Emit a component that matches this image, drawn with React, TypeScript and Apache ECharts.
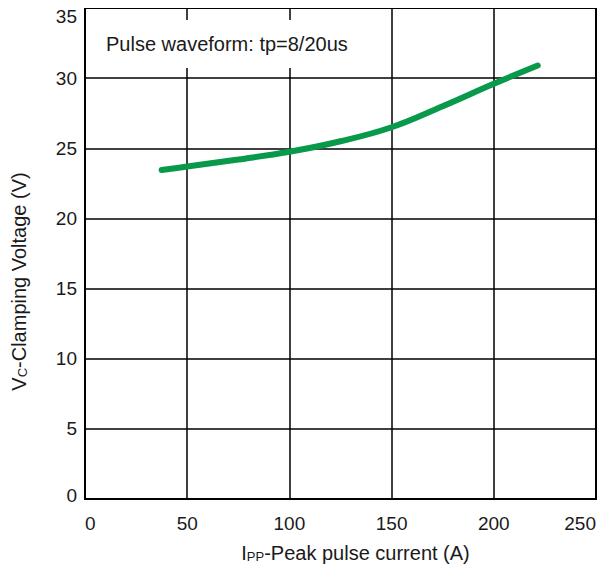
import React, { useEffect, useRef } from "react";
import * as echarts from "echarts";

const currentA = [37.5, 50, 75, 100, 125, 150, 175, 200, 221.5];
const voltageV = [23.45, 23.7, 24.2, 24.75, 25.5, 26.5, 28.0, 29.6, 30.9];
const xTicks = [0, 50, 100, 150, 200, 250];
const yTicks = [0, 5, 10, 15, 20, 25, 30, 35];
const noteText = "Pulse waveform: tp=8/20us";

export default function App() {
  const ref = useRef<HTMLDivElement>(null);
  useEffect(() => {
    if (!ref.current) return;
    const chart = echarts.init(ref.current, null, { renderer: "svg" });
    const font = "Liberation Sans, Arial, sans-serif";
    const yMin = yTicks[0];
    const yMax = yTicks[yTicks.length - 1];
    const lbl = { fontSize: 19, color: "#1a1a1a", fontFamily: font };
    chart.setOption({
      animation: false,
      backgroundColor: "#fff",
      textStyle: { fontFamily: font },
      grid: {
        left: 77,
        right: 2,
        top: 0,
        bottom: 69,
        show: true,
        borderColor: "#000",
        borderWidth: 2,
        backgroundColor: "transparent",
        outerBoundsMode: "none",
        containLabel: false,
      },
      xAxis: {
        type: "value",
        min: xTicks[0],
        max: xTicks[xTicks.length - 1],
        interval: 50,
        axisLine: { show: false },
        axisTick: { show: false },
        splitLine: { show: true, lineStyle: { color: "#000", width: 1.5 } },
        axisLabel: {
          color: "#1a1a1a",
          fontSize: 19,
          fontFamily: font,
          margin: 15,
          alignMinLabel: "left",
          alignMaxLabel: "right",
        },
        name: "{n|I}{s|PP}{n|-Peak pulse current (A)}",
        nameLocation: "middle",
        nameGap: 44,
        nameTextStyle: {
          padding: [0, 0, 0, 30],
          rich: {
            n: { fontSize: 20, color: "#1a1a1a", fontFamily: font },
            s: { fontSize: 13, color: "#1a1a1a", fontFamily: font, verticalAlign: "bottom", padding: [7, 0, 0, 0] },
          },
        },
      },
      yAxis: {
        type: "value",
        min: yMin,
        max: yMax,
        interval: 5,
        axisLine: { show: false },
        axisTick: { show: false },
        splitLine: { show: true, lineStyle: { color: "#000", width: 1.5 } },
        axisLabel: {
          color: "#1a1a1a",
          fontSize: 19,
          fontFamily: font,
          margin: 8,
          formatter: (v: number) =>
            v === yMax ? `{hi|${v}}` : v === yMin ? `{lo|${v}}` : `{m|${v}}`,
          rich: {
            m: { ...lbl },
            hi: { ...lbl, padding: [17, 0, 0, 0] },
            lo: { ...lbl, padding: [0, 0, 8, 0] },
          },
        },
        name: "{n|V}{s|C}{n|-Clamping Voltage (V)}",
        nameLocation: "middle",
        nameGap: 56,
        nameTextStyle: {
          padding: [0, 56, 0, 0],
          rich: {
            n: { fontSize: 20, color: "#1a1a1a", fontFamily: font },
            s: { fontSize: 13, color: "#1a1a1a", fontFamily: font, verticalAlign: "bottom", padding: [7, 0, 0, 0] },
          },
        },
      },
      graphic: [
        {
          type: "rect",
          shape: { x: 80, y: 12, width: 262, height: 48 },
          style: { fill: "#fff" },
          z: 10,
        },
        {
          type: "text",
          x: 98,
          y: 36,
          style: {
            text: noteText,
            fontSize: 20,
            fontFamily: font,
            fill: "#1a1a1a",
            verticalAlign: "middle",
          },
          z: 11,
        },
      ],
      series: [
        {
          type: "line",
          data: currentA.map((x, i) => [x, voltageV[i]]),
          smooth: 0.4,
          symbol: "none",
          lineStyle: { color: "#08994a", width: 6, cap: "round" },
          z: 5,
        },
      ],
    });
    return () => chart.dispose();
  }, []);
  return <div ref={ref} style={{ width: 590, height: 560 }} />;
}
